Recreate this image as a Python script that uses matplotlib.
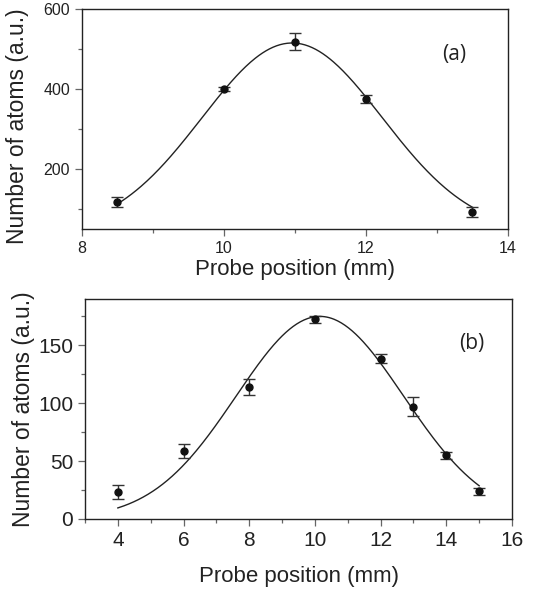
import numpy as np
import matplotlib.pyplot as plt
from matplotlib.ticker import MultipleLocator

plt.rcParams['font.family'] = ['Liberation Sans', 'DejaVu Sans']

# panel (a)
xa = [8.5, 10, 11, 12, 13.5]
ya = [118, 400, 518, 375, 92]
ea = [12, 5, 21, 10, 13]
# gaussian fit (a): amplitude, centre, width, offset
fit_a = (475, 10.96, 1.27, 40)

# panel (b)
xb = [4, 6, 8, 10, 12, 13, 14, 15]
yb = [23, 58.5, 114, 172.5, 138.5, 97, 55, 24]
eb = [6, 6, 7, 3, 4, 8, 3, 3]
fit_b = (175, 10.15, 2.55, 0)


def gauss(x, p):
    a, xc, w, y0 = p
    return y0 + a * np.exp(-(x - xc) ** 2 / (2 * w ** 2))


fig = plt.figure(figsize=(5.38, 5.99), dpi=100)
ax1 = fig.add_axes([0.1524, 0.6177, 0.7918, 0.3673])
ax2 = fig.add_axes([0.158, 0.1336, 0.7937, 0.3672])

for ax, x, y, e, p, tfs in [(ax1, xa, ya, ea, fit_a, 11.5),
                            (ax2, xb, yb, eb, fit_b, 15)]:
    xx = np.linspace(min(x), max(x), 300)
    ax.plot(xx, gauss(xx, p), color='#222222', lw=1.0)
    ax.errorbar(x, y, yerr=e, fmt='o', color='#111111', ms=5,
                ecolor='#333333', elinewidth=1.0, capsize=4, capthick=1.0)
    ax.set_xlabel('Probe position (mm)', fontsize=16, color='#222222')
    ax.set_ylabel('Number of atoms (a.u.)', fontsize=16.5, color='#222222')
    ax.tick_params(which='major', direction='out', length=5, width=0.9,
                   labelsize=tfs, colors='#666666', labelcolor='#222222')
    ax.tick_params(which='minor', direction='out', length=3, width=0.9,
                   colors='#666666')
    for s in ax.spines.values():
        s.set_linewidth(1.0)
        s.set_color('#222222')

ax1.set_xlim(8, 14)
ax1.set_ylim(50, 600)
ax1.set_xticks([8, 10, 12, 14])
ax1.xaxis.set_minor_locator(MultipleLocator(1))
ax1.set_yticks([200, 400, 600])
ax1.set_yticks([100, 300, 500], minor=True)
ax1.text(0.873, 0.795, '(a)', transform=ax1.transAxes, fontsize=15,
         family='Open Sans', color='#222222', ha='center', va='center')
ax1.xaxis.labelpad = 2
ax1.yaxis.set_label_coords(-0.125, 0.468)

ax2.set_xlim(3, 16)
ax2.set_ylim(0, 190)
ax2.set_xticks([4, 6, 8, 10, 12, 14, 16])
ax2.xaxis.set_minor_locator(MultipleLocator(1))
ax2.set_yticks([0, 50, 100, 150])
ax2.set_yticks([25, 75, 125, 175], minor=True)
ax2.text(0.905, 0.80, '(b)', transform=ax2.transAxes, fontsize=15,
         family='Open Sans', color='#222222', ha='center', va='center')
ax2.xaxis.labelpad = 12
ax2.yaxis.labelpad = 2

fig.savefig('out.png', dpi=100)
